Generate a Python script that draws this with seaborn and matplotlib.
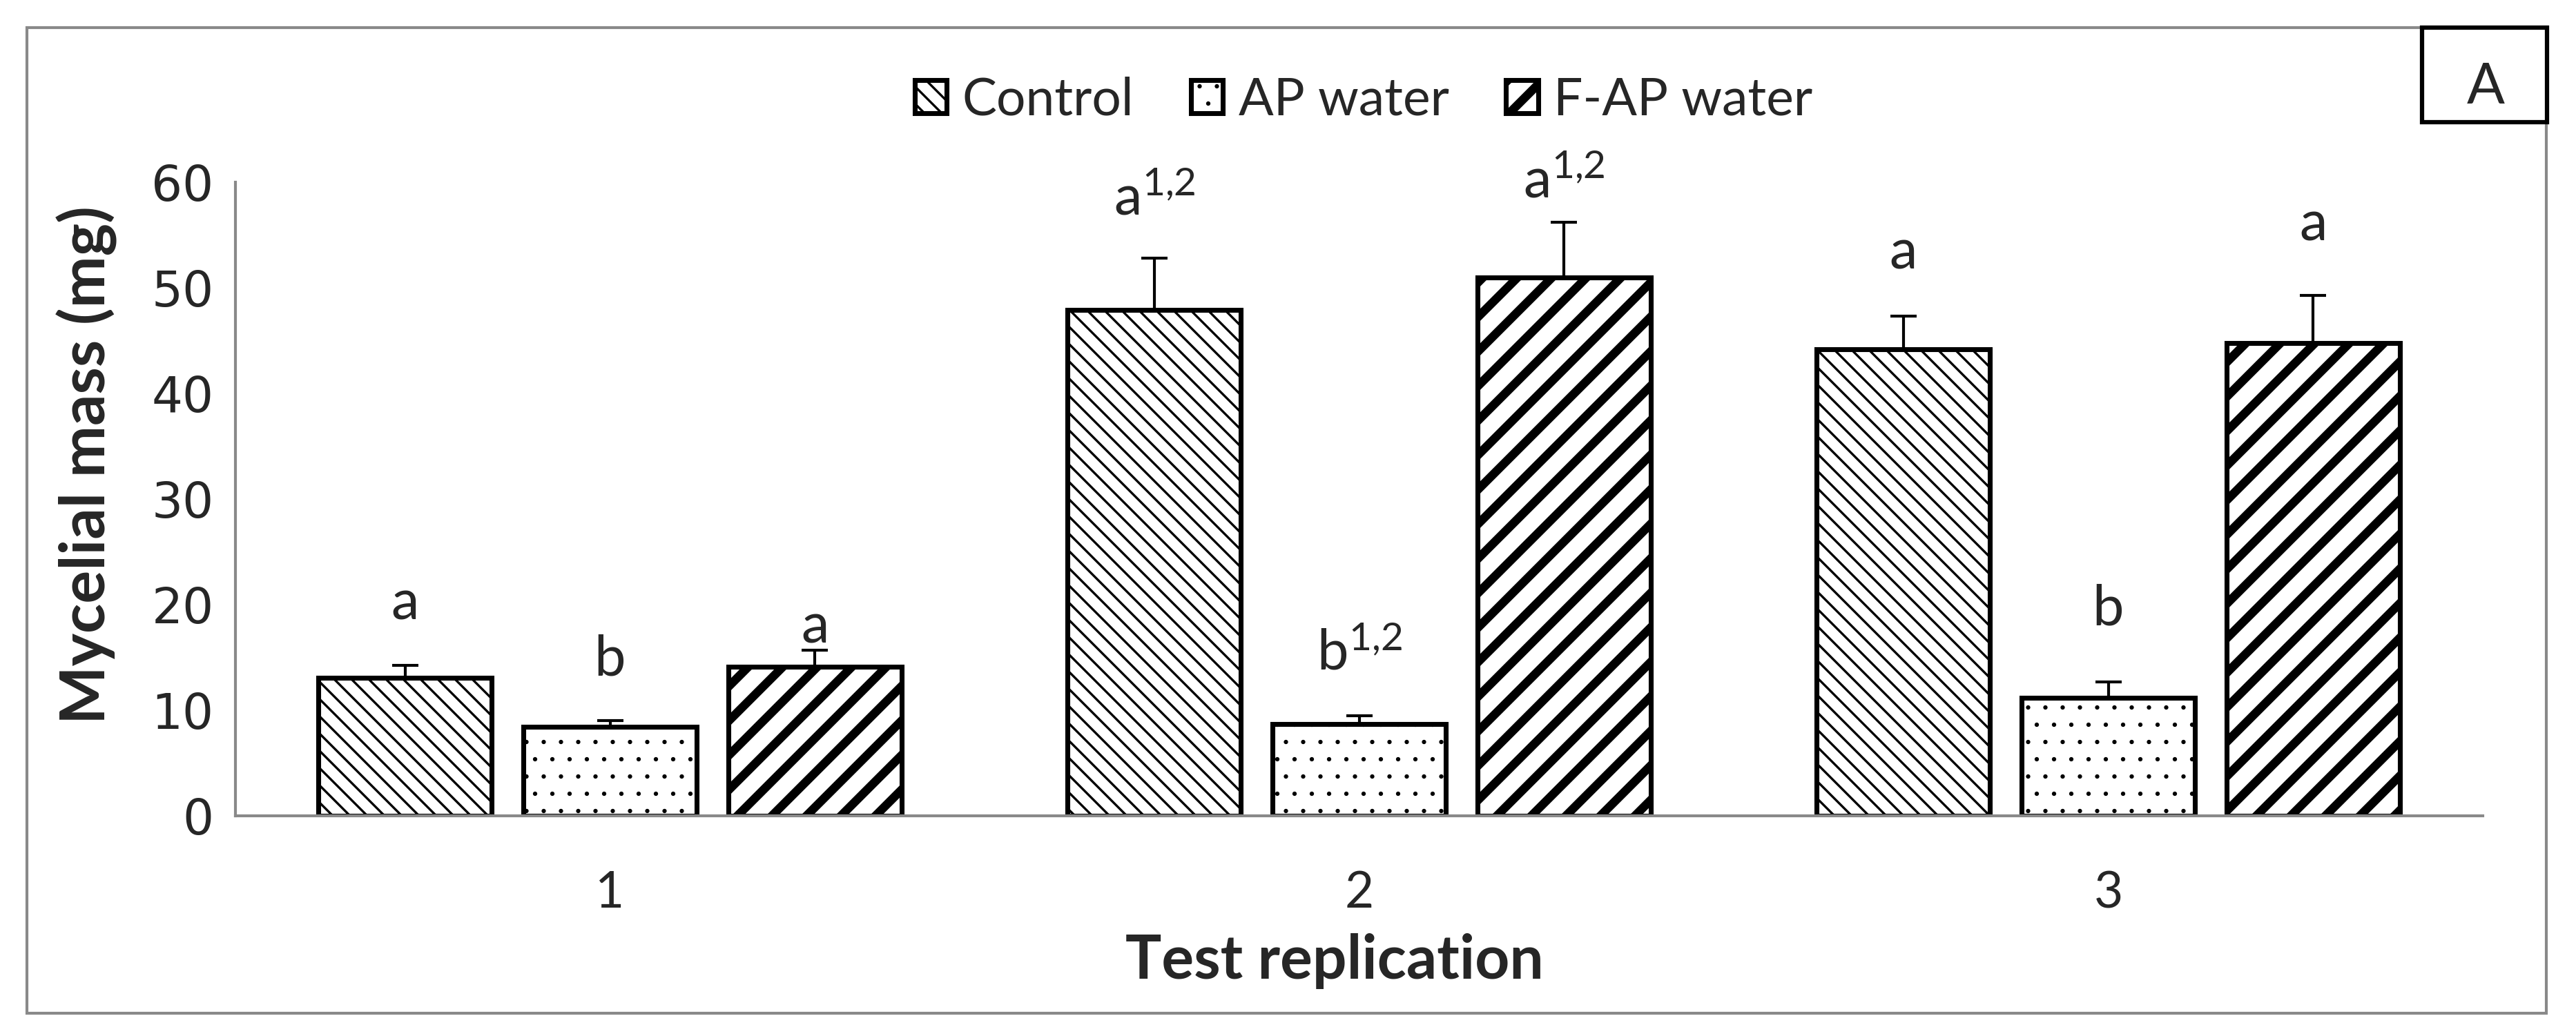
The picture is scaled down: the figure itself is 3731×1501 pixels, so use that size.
import numpy as np
import pandas as pd
import seaborn as sns
import matplotlib.pyplot as plt
import matplotlib.patches as mpatches

# data
replications = ['1', '2', '3']
treatments = ['Control', 'AP water', 'F-AP water']
control = [13.1, 47.9, 44.2]
ap_water = [8.4, 8.7, 11.2]
fap_water = [14.1, 51.0, 44.8]
control_err = [1.15, 4.9, 3.1]
ap_water_err = [0.65, 0.8, 1.5]
fap_water_err = [1.6, 5.2, 4.5]

# significance letters and the height (mg) of their baseline
sup_a = r'$\mathregular{a^{1{,}2}}$'
sup_b = r'$\mathregular{b^{1{,}2}}$'
control_letters = ['a', sup_a, 'a']
ap_water_letters = ['b', sup_b, 'b']
fap_water_letters = ['a', sup_a, 'a']
control_letter_y = [18.6, 56.9, 51.8]
ap_water_letter_y = [13.3, 13.8, 18.1]
fap_water_letter_y = [16.4, 58.5, 54.5]

sns.set_style('white')
plt.rcParams['font.family'] = ['Lato', 'DejaVu Sans']
plt.rcParams['mathtext.fontset'] = 'custom'
plt.rcParams['mathtext.rm'] = 'Lato'
plt.rcParams['mathtext.it'] = 'Lato:italic'
plt.rcParams['mathtext.bf'] = 'Lato:bold'

gray = '#898989'
W, H = 3731, 1501
fig = plt.figure(figsize=(W / 300, H / 300), dpi=300)
ax = fig.add_axes([341 / W, (H - 1182) / H, 3255 / W, 918 / H])

df = pd.DataFrame({
    'Test replication': replications * 3,
    'Treatment': np.repeat(treatments, 3),
    'Mass': control + ap_water + fap_water,
})
sns.barplot(data=df, x='Test replication', y='Mass', hue='Treatment',
            hue_order=treatments, palette={t: 'white' for t in treatments},
            saturation=1, edgecolor='black', linewidth=1.7, width=0.82,
            gap=0.154, errorbar=None, legend=False, ax=ax)

hatches = ['\\\\\\\\', '..', '//']
hatch_lws = [0.8, 0.3, 3.0]
errs = [control_err, ap_water_err, fap_water_err]
letters = [control_letters, ap_water_letters, fap_water_letters]
letter_ys = [control_letter_y, ap_water_letter_y, fap_water_letter_y]

for cont, h, hlw, err, labs, laby in zip(ax.containers, hatches, hatch_lws,
                                         errs, letters, letter_ys):
    xs, ys = [], []
    for bar in cont:
        bar.set_hatch(h)
        if hasattr(bar, 'set_hatch_linewidth'):
            bar.set_hatch_linewidth(hlw)
        xs.append(bar.get_x() + bar.get_width() / 2)
        ys.append(bar.get_height())
    ax.errorbar(xs, ys, yerr=[np.zeros(len(err)), err], fmt='none',
                ecolor='black', elinewidth=1, capsize=4.6, capthick=1)
    for x, t, y in zip(xs, labs, laby):
        ax.text(x, y, t, ha='center', va='baseline', fontsize=19.5)

ax.set_xlim(-0.5, 2.5)
ax.set_ylim(0, 60)
ax.set_yticks(range(0, 61, 10))
ax.set_xticks([-0.5, 0.5, 1.5, 2.5], minor=True)
ax.tick_params(axis='x', which='major', length=0, pad=19, labelsize=17.5)
ax.tick_params(axis='x', which='minor', length=6.5, width=1, color=gray)
ax.tick_params(axis='y', length=6.5, width=1, color=gray, pad=1, labelsize=17)
for lab in ax.get_yticklabels():
    lab.set_family('DejaVu Sans')
for s in ['top', 'right']:
    ax.spines[s].set_visible(False)
for s in ['left', 'bottom']:
    ax.spines[s].set_color(gray)
    ax.spines[s].set_linewidth(1)

ax.set_xlabel('Test replication', fontsize=21, fontweight='bold')
ax.set_ylabel('Mycelial mass (mg)', fontsize=21.5, fontweight='bold')
ax.xaxis.set_label_coords(0.489, -0.229)
ax.xaxis.label.set_va('center')
ax.yaxis.set_label_coords(-0.066, 0.554)
ax.yaxis.label.set_va('center')

handles = [mpatches.Patch(facecolor='white', edgecolor='black', hatch=h,
                          linewidth=1.7, label=t)
           for h, t in zip(hatches, treatments)]
leg = fig.legend(handles=handles, loc='center',
                 bbox_to_anchor=(1975 / W, 1 - 145 / H), ncol=3,
                 frameon=False, fontsize=18, handlelength=0.62,
                 handleheight=0.62, handletextpad=0.3, columnspacing=1.1)
for p, hlw in zip(leg.get_patches(), hatch_lws):
    if hasattr(p, 'set_hatch_linewidth'):
        p.set_hatch_linewidth(hlw)

# outer frame and panel tag
fig.patches.append(mpatches.Rectangle((39 / W, (H - 1468) / H),
                                      (3688 - 39) / W, (1468 - 40) / H,
                                      transform=fig.transFigure, fill=False,
                                      edgecolor=gray, linewidth=1))
fig.patches.append(mpatches.Rectangle((3508 / W, (H - 177) / H), 181 / W,
                                      137 / H, transform=fig.transFigure,
                                      facecolor='white', edgecolor='black',
                                      linewidth=1.5))
fig.text(3600 / W, 1 - 127 / H, 'A', ha='center', va='center', fontsize=19.5)

fig.savefig('out.png', dpi=300)
